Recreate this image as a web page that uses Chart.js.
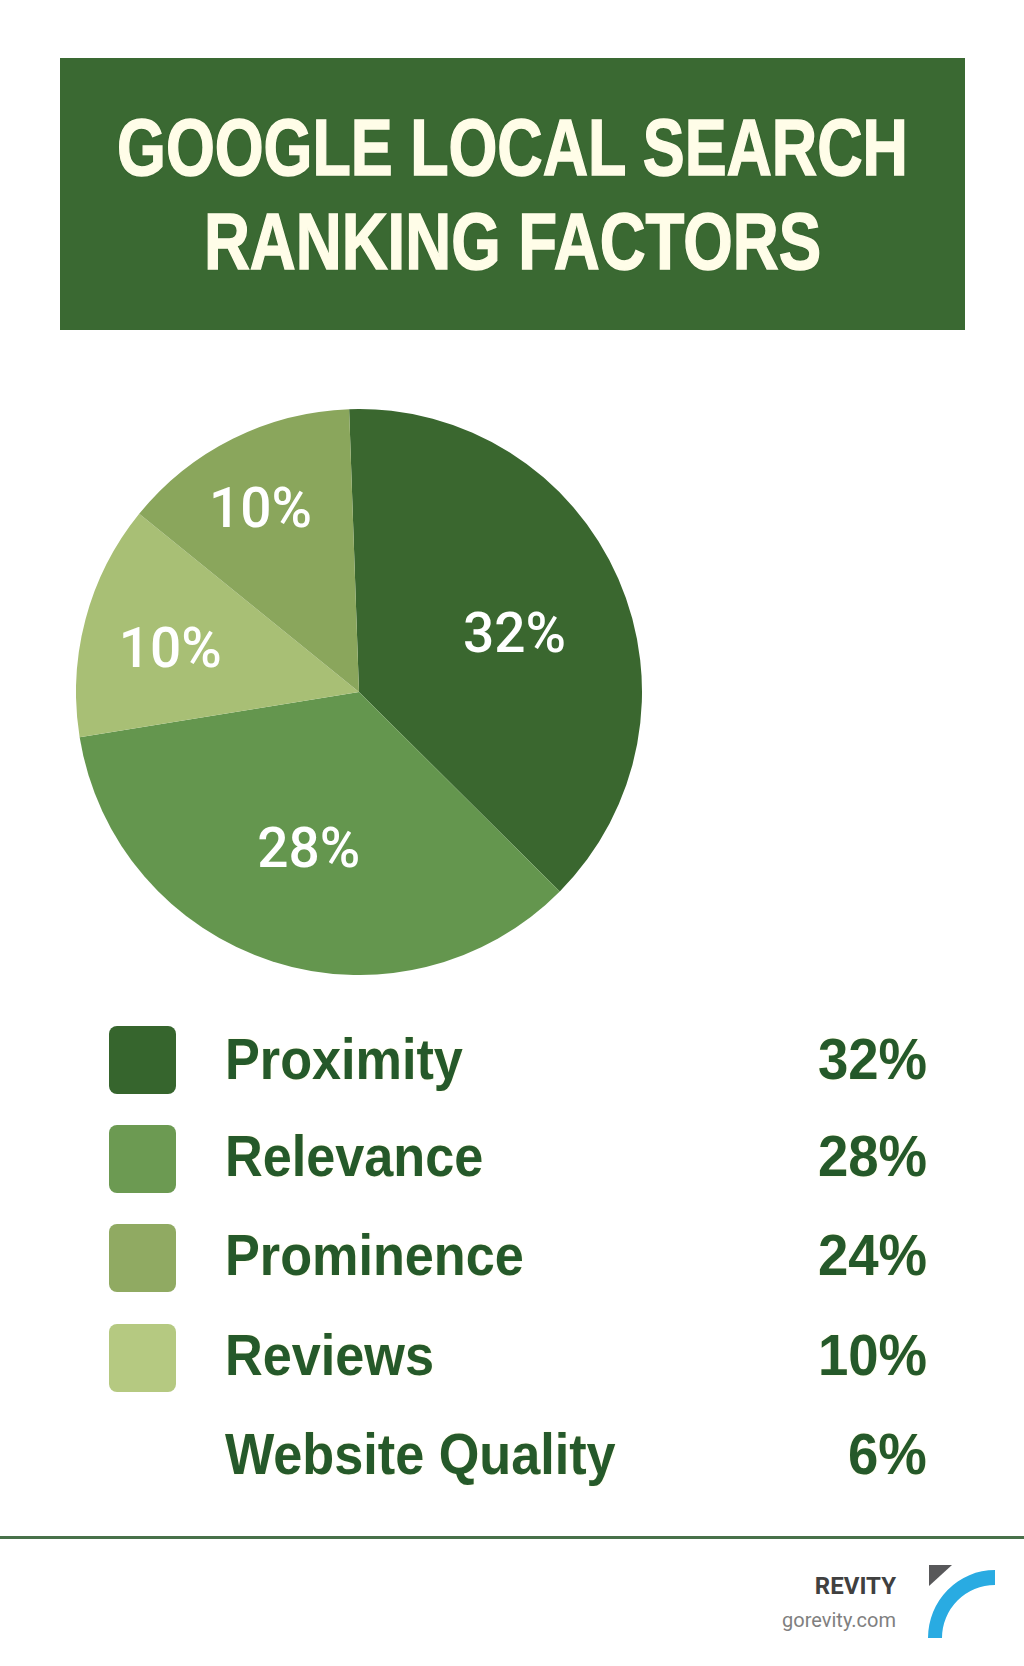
<!DOCTYPE html>
<html>
<head>
<meta charset="utf-8">
<title>Google Local Search Ranking Factors</title>
<script src="https://cdn.jsdelivr.net/npm/chart.js@4"></script>
<style>
  html, body { margin: 0; padding: 0; background: #fff; }
  #page { position: relative; width: 1024px; height: 1666px; overflow: hidden; background: #fff; }
  #banner { position: absolute; left: 60px; top: 58px; width: 905px; height: 272px; background: #3a6932; }
  .title { position: absolute; left: -60px; width: 1025px; text-align: center; white-space: nowrap;
    font: bold 80px/93px "Liberation Sans", sans-serif; color: #fffde8;
    -webkit-text-stroke: 1.5px #fffde8; text-shadow: 0 0 2px #24502a; }
  #pie { position: absolute; left: 76px; top: 409px; }
  .swatch { position: absolute; left: 109px; width: 67px; height: 68px; border-radius: 8px; }
  .name, .pct { position: absolute; white-space: nowrap; color: #25592a;
    font: bold 58px/70px "Liberation Sans", sans-serif;
    text-shadow: 0 0 2px #fffbe0, 0 0 2px #fffbe0; }
  .name { left: 225px; transform: scaleX(0.9); transform-origin: left center; }
  .pct { right: 97px; transform: scaleX(0.94); transform-origin: right center; }
  #rule { position: absolute; left: 0; top: 1536px; width: 1024px; height: 3px; background: #48714a; }
  #brand { position: absolute; right: 128px; top: 1571px; text-align: right; font-family: Roboto, sans-serif; }
  #brand b { display: block; font-size: 24px; line-height: 30px; font-weight: 700; color: #404040; }
  #brand span { display: block; font-size: 20px; line-height: 30px; margin-top: 4px; color: #808080; }
  #logo { position: absolute; left: 0; top: 0; }
</style>
</head>
<body>
<div id="page">
  <div id="banner">
    <div class="title" style="top: 43px; transform: scaleX(0.785)">GOOGLE LOCAL SEARCH</div>
    <div class="title" style="top: 137px; transform: scaleX(0.795)">RANKING FACTORS</div>
  </div>
  <canvas id="pie" width="566" height="566" style="width:566px;height:566px"></canvas>
  <div id="legend"></div>
  <div id="rule"></div>
  <div id="brand"><b>REVITY</b><span>gorevity.com</span></div>
  <svg id="logo" width="1024" height="1666">
    <path d="M929 1565 L952 1565 L929 1586 Z" fill="#58585a"/>
    <path d="M928 1638 A67 68 0 0 1 995 1570 L995 1585 A53 53 0 0 0 942 1638 Z" fill="#29abe2"/>
  </svg>
</div>

<script>
// Pie: the drawn wedges are wider than their printed labels say, so both are kept
const sliceLabels = ['32%', '28%', '10%', '10%'];
const sliceShares = [38, 35, 13.4, 13.6];
const sliceColors = ['#3a672f', '#64964e', '#a8bf75', '#8aa65c'];

// Legend rows
const legendNames = ['Proximity', 'Relevance', 'Prominence', 'Reviews', 'Website Quality'];
const legendValues = [32, 28, 24, 10, 6];
const legendColors = ['#36652d', '#6c9a52', '#90aa62', '#b5c981', null];

const rowBaselines = [1079, 1176, 1275, 1375, 1474];
const swatchTops = [1026, 1125, 1224, 1324];

// where each label sits along its wedge, plus a small drop
const labelRadius = [0.60, 0.58, 0.69, 0.78];
const labelDrop = [14, 5, 12, 19];

const sliceLabelPlugin = {
  id: 'sliceLabels',
  afterDatasetsDraw(chart) {
    const ctx = chart.ctx;
    const arcs = chart.getDatasetMeta(0).data;
    ctx.save();
    ctx.fillStyle = '#ffffff';
    ctx.font = '500 55px Roboto, sans-serif';
    ctx.textAlign = 'center';
    ctx.textBaseline = 'middle';
    arcs.forEach((arc, i) => {
      const mid = (arc.startAngle + arc.endAngle) / 2;
      const r = arc.outerRadius * labelRadius[i];
      ctx.fillText(sliceLabels[i], arc.x + Math.cos(mid) * r, arc.y + Math.sin(mid) * r + labelDrop[i]);
    });
    ctx.restore();
  }
};

new Chart(document.getElementById('pie'), {
  type: 'pie',
  data: {
    labels: sliceLabels,
    datasets: [{
      data: sliceShares,
      backgroundColor: sliceColors,
      borderWidth: 0
    }]
  },
  options: {
    responsive: false,
    animation: false,
    rotation: -2,
    plugins: {
      legend: { display: false },
      tooltip: { enabled: false }
    }
  },
  plugins: [sliceLabelPlugin]
});

// Legend
const legendBox = document.getElementById('legend');
legendNames.forEach((name, i) => {
  const top = rowBaselines[i] - 55;
  if (legendColors[i]) {
    legendBox.insertAdjacentHTML('beforeend',
      `<div class="swatch" style="top:${swatchTops[i]}px;background:${legendColors[i]}"></div>`);
  }
  legendBox.insertAdjacentHTML('beforeend',
    `<div class="name" style="top:${top}px">${name}</div><div class="pct" style="top:${top}px">${legendValues[i]}%</div>`);
});
</script>
</body>
</html>
